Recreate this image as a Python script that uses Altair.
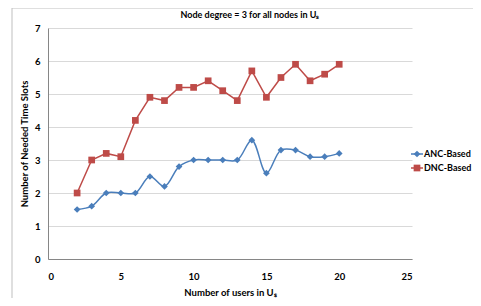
import altair as alt
import pandas as pd

users = list(range(2, 21))
anc = [1.5, 1.6, 2.0, 2.0, 2.0, 2.5, 2.2, 2.8, 3.0, 3.0, 3.0, 3.0, 3.6, 2.6, 3.3, 3.3, 3.1, 3.1, 3.2]
dnc = [2.0, 3.0, 3.2, 3.1, 4.2, 4.9, 4.8, 5.2, 5.2, 5.4, 5.1, 4.8, 5.7, 4.9, 5.5, 5.9, 5.4, 5.6, 5.9]
series_names = ["ANC-Based", "DNC-Based"]
colors = ["#4A7EBB", "#BE4B48"]
x_ticks = [0, 5, 10, 15, 20, 25]
y_ticks = [0, 1, 2, 3, 4, 5, 6, 7]
title_text = "Node degree = 3 for all nodes in Uₛ"

rows = []
for u, a, d in zip(users, anc, dnc):
    rows.append({"users": u, "slots": a, "series": series_names[0]})
    rows.append({"users": u, "slots": d, "series": series_names[1]})
df = pd.DataFrame(rows)
legend_df = pd.DataFrame({"series": series_names})

FONT = "Lato"
FS = 9.5

x = alt.X("users:Q", scale=alt.Scale(domain=[0, 25], nice=False),
          axis=alt.Axis(values=x_ticks, title="Number of users in Uₛ", grid=False, ticks=False,
                        labelPadding=12, titlePadding=7, domainColor="#868686"))
y = alt.Y("slots:Q", scale=alt.Scale(domain=[0, 7], nice=False),
          axis=alt.Axis(values=y_ticks, title="Number of Needed Time Slots", grid=True, ticks=False,
                        labelPadding=8, titlePadding=5, domainColor="#868686", gridColor="#d9d9d9"))
color = alt.Color("series:N", scale=alt.Scale(domain=series_names, range=colors), legend=None)
shape = alt.Shape("series:N", scale=alt.Scale(domain=series_names, range=["diamond", "square"]), legend=None)

base = alt.Chart(df)
blue_line = base.transform_filter(alt.datum.series == series_names[0]).mark_line(
    interpolate="catmull-rom", strokeWidth=1.5).encode(x=x, y=y, color=color)
red_line = base.transform_filter(alt.datum.series == series_names[1]).mark_line(
    strokeWidth=1.5).encode(x=x, y=y, color=color)
points = base.mark_point(filled=True, opacity=1, size=45).encode(x=x, y=y, color=color, shape=shape)

# legend built from its own small scale
ly = alt.Y("series:N", scale=alt.Scale(type="point", domain=series_names, range=[126, 140], padding=0), axis=None)
lbase = alt.Chart(legend_df)
leg_rule = lbase.mark_rule(strokeWidth=1.5).encode(x=alt.value(363), x2=alt.value(375), y=ly, color=color)
leg_pts = lbase.mark_point(filled=True, opacity=1, size=45).encode(x=alt.value(369), y=ly, color=color, shape=shape)
leg_txt = lbase.mark_text(font=FONT, fontSize=9, fontWeight="bold", color="#000000",
                          align="left", baseline="middle").encode(x=alt.value(376), y=ly, text="series:N")
legend_layer = alt.layer(leg_rule, leg_pts, leg_txt)

border = alt.Chart(alt.Data(values=[{}])).mark_rect(fillOpacity=0, stroke="#bfbfbf", strokeWidth=1).encode(
    x=alt.value(-36), x2=alt.value(470), y=alt.value(-20), y2=alt.value(271.5))

title = alt.Chart(alt.Data(values=[{"t": title_text}])).mark_text(
    font=FONT, fontSize=9, fontWeight="bold", color="#000000", align="center", baseline="middle"
).encode(text="t:N", x=alt.value(202), y=alt.value(-13))

main = alt.layer(border, blue_line, red_line, points, title)

chart = alt.layer(main, legend_layer).resolve_scale(y="independent").properties(
    width=364, height=231,
    autosize="none",
    padding={"left": 40, "top": 20, "right": 61, "bottom": 39},
).configure_view(strokeWidth=0).configure_axis(
    labelFont=FONT, titleFont=FONT, labelFontSize=FS, titleFontSize=FS,
    labelFontWeight="bold", titleFontWeight="bold", labelColor="#000000", titleColor="#000000"
)

chart.save("out.html", embed_options={"renderer": "svg", "actions": False})
